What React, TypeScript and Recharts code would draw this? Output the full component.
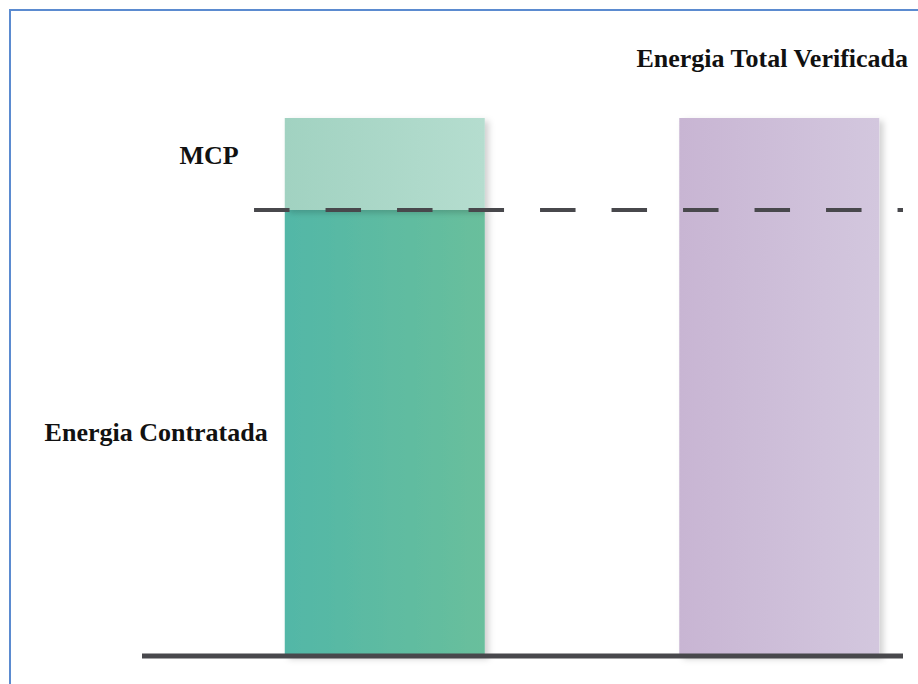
import { BarChart, Bar, XAxis, YAxis, ReferenceLine, LabelList } from "recharts";

// category positions on the x scale (0 = contracted, 1 = verified)
const categories = ["Energia Contratada", "Energia Total Verificada"];
const positions = [0, 1];
const contratada = [82.9, 0];
const mcp = [17.1, 0];
const verificada = [0, 100];

const xDomain = [-0.616, 1.313];
const mcpLineStart = -0.332;

const data = categories.map((name, i) => ({
  name,
  pos: positions[i],
  contratada: contratada[i],
  mcp: mcp[i],
  verificada: verificada[i],
}));

const FONT = "'Liberation Serif', 'Times New Roman', serif";

const sideLabel = (text: string, offset: number, dy: number) => (props: any) => {
  const { x, y, height, value } = props;
  if (!value) return null;
  return (
    <text
      x={x - offset}
      y={y + height / 2}
      dy={dy}
      textAnchor="end"
      fontFamily={FONT}
      fontWeight="bold"
      fontSize={26}
      fill="#111"
    >
      {text}
    </text>
  );
};

const topLabel = (text: string, offset: number, dx: number) => (props: any) => {
  const { x, y, width, value } = props;
  if (!value) return null;
  return (
    <text
      x={x + width / 2 + dx}
      y={y - offset}
      textAnchor="middle"
      fontFamily={FONT}
      fontWeight="bold"
      fontSize={26}
      fill="#111"
    >
      {text}
    </text>
  );
};

export default function App() {
  return (
    <div
      style={{
        position: "fixed",
        left: 0,
        top: 0,
        width: 918,
        height: 684,
        background: "#fff",
        overflow: "hidden",
      }}
    >
      <div
        style={{
          position: "absolute",
          left: 9,
          top: 9,
          right: -10,
          bottom: -10,
          borderTop: "2px solid #5b8bd0",
          borderLeft: "2px solid #5b8bd0",
        }}
      />
      <div style={{ position: "absolute", left: 0, top: 0 }}>
        <BarChart
          width={918}
          height={684}
          data={data}
          margin={{ top: 118, right: 15, bottom: 28, left: 142 }}
        >
          <defs>
            <linearGradient id="gContratada" x1="0" y1="0" x2="1" y2="0">
              <stop offset="0%" stopColor="#52b7a7" />
              <stop offset="100%" stopColor="#69bf9c" />
            </linearGradient>
            <linearGradient id="gMcp" x1="0" y1="0" x2="1" y2="0">
              <stop offset="0%" stopColor="#a1d2c1" />
              <stop offset="100%" stopColor="#b5ddcf" />
            </linearGradient>
            <linearGradient id="gVerificada" x1="0" y1="0" x2="1" y2="0">
              <stop offset="0%" stopColor="#c8b5d3" />
              <stop offset="100%" stopColor="#d3c7de" />
            </linearGradient>
            <filter id="shadow" x="-10%" y="-10%" width="130%" height="130%">
              <feDropShadow dx="4" dy="3" stdDeviation="3" floodColor="#000" floodOpacity="0.18" />
            </filter>
          </defs>
          <XAxis dataKey="pos" type="number" domain={xDomain} hide />
          <YAxis type="number" domain={[0, 100]} hide />
          <Bar
            dataKey="contratada"
            stackId="a"
            barSize={200}
            fill="url(#gContratada)"
            filter="url(#shadow)"
            isAnimationActive={false}
          >
            <LabelList dataKey="contratada" content={sideLabel("Energia Contratada", 17, 8)} />
          </Bar>
          <Bar
            dataKey="mcp"
            stackId="a"
            barSize={200}
            fill="url(#gMcp)"
            filter="url(#shadow)"
            isAnimationActive={false}
          >
            <LabelList dataKey="mcp" content={sideLabel("MCP", 46, 0)} />
          </Bar>
          <Bar
            dataKey="verificada"
            stackId="a"
            barSize={200}
            fill="url(#gVerificada)"
            filter="url(#shadow)"
            isAnimationActive={false}
          >
            <LabelList dataKey="verificada" content={topLabel("Energia Total Verificada", 51, -7)} />
          </Bar>
          <ReferenceLine
            segment={[
              { x: mcpLineStart, y: contratada[0] },
              { x: xDomain[1], y: contratada[0] },
            ]}
            stroke="#48484c"
            strokeWidth={4}
            strokeDasharray="35.5 36"
            ifOverflow="visible"
          />
          <ReferenceLine y={0} stroke="#48484c" strokeWidth={5} />
        </BarChart>
      </div>
    </div>
  );
}
